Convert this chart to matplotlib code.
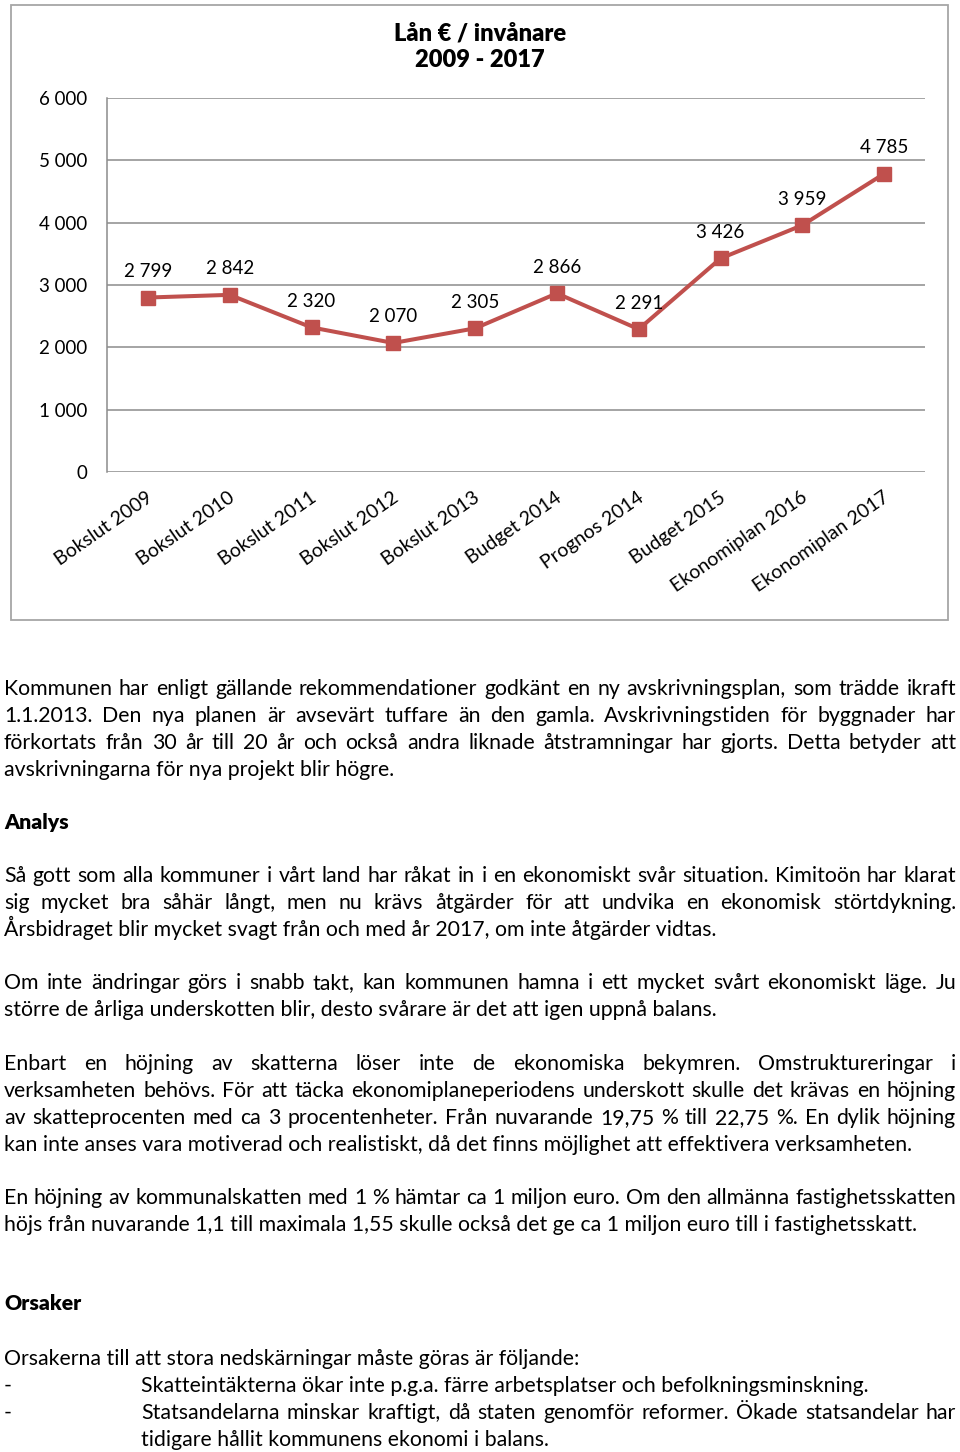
import matplotlib
matplotlib.use("Agg")
import matplotlib.pyplot as plt
from matplotlib.patches import Rectangle
from matplotlib.transforms import ScaledTranslation

plt.rcParams['font.family'] = ['Lato', 'DejaVu Sans']

# ---------------- data ----------------
categories = ["Bokslut 2009", "Bokslut 2010", "Bokslut 2011", "Bokslut 2012", "Bokslut 2013",
              "Budget 2014", "Prognos 2014", "Budget 2015", "Ekonomiplan 2016", "Ekonomiplan 2017"]
values = [2799, 2842, 2320, 2070, 2305, 2866, 2291, 3426, 3959, 4785]
y_ticks = [0, 1000, 2000, 3000, 4000, 5000, 6000]
y_tick_labels = ["0", "1 000", "2 000", "3 000", "4 000", "5 000", "6 000"]
title_lines = ["Lån € / invånare", "2009 - 2017"]

paragraph1 = [
    "Kommunen har enligt gällande rekommendationer godkänt en ny avskrivningsplan, som trädde ikraft",
    "1.1.2013. Den nya planen är avsevärt tuffare än den gamla. Avskrivningstiden för byggnader har",
    "förkortats från 30 år till 20 år och också andra liknade åtstramningar har gjorts. Detta betyder att",
    "avskrivningarna för nya projekt blir högre.",
]
heading_analys = "Analys"
paragraph2 = [
    "Så gott som alla kommuner i vårt land har råkat in i en ekonomiskt svår situation. Kimitoön har klarat",
    "sig mycket bra såhär långt, men nu krävs åtgärder för att undvika en ekonomisk störtdykning.",
    "Årsbidraget blir mycket svagt från och med år 2017, om inte åtgärder vidtas.",
]
paragraph3 = [
    "Om inte ändringar görs i snabb takt, kan kommunen hamna i ett mycket svårt ekonomiskt läge. Ju",
    "större de årliga underskotten blir, desto svårare är det att igen uppnå balans.",
]
paragraph4 = [
    "Enbart en höjning av skatterna löser inte de ekonomiska bekymren. Omstruktureringar i",
    "verksamheten behövs. För att täcka ekonomiplaneperiodens underskott skulle det krävas en höjning",
    "av skatteprocenten med ca 3 procentenheter. Från nuvarande 19,75 % till 22,75 %. En dylik höjning",
    "kan inte anses vara motiverad och realistiskt, då det finns möjlighet att effektivera verksamheten.",
]
paragraph5 = [
    "En höjning av kommunalskatten med 1 % hämtar ca 1 miljon euro. Om den allmänna fastighetsskatten",
    "höjs från nuvarande 1,1 till maximala 1,55 skulle också det ge ca 1 miljon euro till i fastighetsskatt.",
]
heading_orsaker = "Orsaker"
orsaker_intro = "Orsakerna till att stora nedskärningar måste göras är följande:"
bullet1 = ["Skatteintäkterna ökar inte p.g.a. färre arbetsplatser och befolkningsminskning."]
bullet2 = ["Statsandelarna minskar kraftigt, då staten genomför reformer. Ökade statsandelar har",
           "tidigare hållit kommunens ekonomi i balans."]

# ---------------- figure ----------------
W, H = 960, 1452
fig = plt.figure(figsize=(W / 100, H / 100), dpi=100)
fig.patch.set_facecolor("white")

def fx(x):
    return x / W

def fy(y):
    return 1 - y / H

# chart frame
fig.patches.append(Rectangle((fx(11), fy(620)), fx(948) - fx(11), fy(5) - fy(620),
                             transform=fig.transFigure, fill=False,
                             edgecolor="#a6a6a6", linewidth=1.3))

ax = fig.add_axes([fx(107), fy(472), fx(925) - fx(107), fy(98) - fy(472)])
x = list(range(len(categories)))
ax.plot(x, values, color="#c0504d", linewidth=2.9, marker="s", markersize=10,
        markerfacecolor="#c0504d", markeredgecolor="#c0504d", zorder=3)
ax.set_xlim(-0.5, len(categories) - 0.5)
ax.set_ylim(0, 6000)
ax.set_yticks(y_ticks)
ax.set_yticklabels(y_tick_labels)
ax.yaxis.grid(True, color="#8c8c8c", linewidth=1.1)
ax.set_axisbelow(True)
for s in ["top", "right", "bottom"]:
    ax.spines[s].set_visible(False)
ax.spines["left"].set_color("#8c8c8c")
ax.spines["left"].set_linewidth(1.1)
ax.tick_params(axis="y", length=0, pad=14, labelsize=13.5)
ax.set_xticks(x)
ax.set_xticklabels(categories, rotation=35, ha="right", va="center",
                   rotation_mode="anchor", fontsize=14)
ax.tick_params(axis="x", length=0, pad=17)
for lab in ax.get_xticklabels():
    lab.set_transform(lab.get_transform() + ScaledTranslation(0.03, 0, fig.dpi_scale_trans))

for xi, v in zip(x, values):
    ax.annotate(f"{v:,}".replace(",", " "), (xi, v), xytext=(0, 26),
                textcoords="offset pixels", ha="center", va="center", fontsize=13.5)

fig.text(fx(480), fy(33), title_lines[0], ha="center", va="center",
         fontsize=17, fontweight="heavy")
fig.text(fx(480), fy(60), title_lines[1], ha="center", va="center",
         fontsize=17, fontweight="heavy")

# ---------------- body text ----------------
LEFT, RIGHT = 4, 956
renderer = fig.canvas.get_renderer()

def measure(s, fs, **kw):
    t = fig.text(0, 0, s, fontsize=fs, **kw)
    w = t.get_window_extent(renderer).width
    t.remove()
    return w

# calibrate the body font size so that the last line of paragraph 5 ends near x=916
_ref_fs = 16.0
BODY_FS = _ref_fs * (916 - LEFT) / measure(paragraph5[-1], _ref_fs)

def put_line(s, left, y, justify, right=RIGHT, **kw):
    if not justify:
        fig.text(fx(left), fy(y), s, fontsize=BODY_FS, va="baseline", ha="left", **kw)
        return
    words = s.split(" ")
    widths = [measure(w_, BODY_FS, **kw) for w_ in words]
    gap = (right - left - sum(widths)) / (len(words) - 1)
    xpos = left
    for w_, wd in zip(words, widths):
        fig.text(fx(xpos), fy(y), w_, fontsize=BODY_FS, va="baseline", ha="left", **kw)
        xpos += wd + gap

def put_paragraph(lines, y0, left=LEFT, step=26.9):
    for i, ln in enumerate(lines):
        put_line(ln, left, y0 + i * step, justify=(i < len(lines) - 1))

put_paragraph(paragraph1, 695)
put_line(heading_analys, LEFT, 829, False, fontweight="heavy")
put_paragraph(paragraph2, 882)
put_paragraph(paragraph3, 989)
put_paragraph(paragraph4, 1070)
put_paragraph(paragraph5, 1204)
put_line(heading_orsaker, LEFT, 1310, False, fontweight="heavy")
put_line(orsaker_intro, LEFT, 1365, False)
put_line("-", LEFT, 1392, False)
put_paragraph(bullet1, 1392, left=141)
put_line("-", LEFT, 1419, False)
put_paragraph(bullet2, 1419, left=141)

fig.savefig("out.png", dpi=100)
